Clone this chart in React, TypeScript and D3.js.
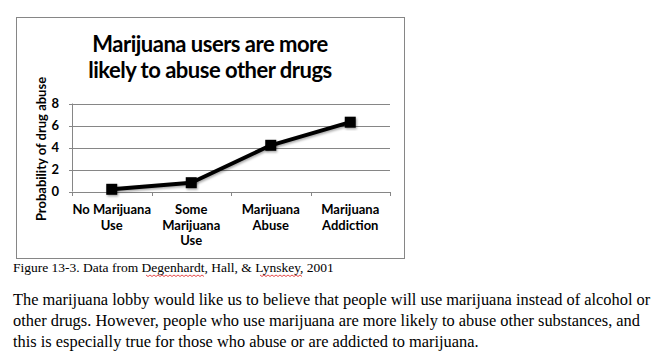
import { useEffect, useRef } from 'react'
import * as d3 from 'd3'

const CATEGORIES = ['No Marijuana|Use', 'Some|Marijuana|Use', 'Marijuana|Abuse', 'Marijuana|Addiction']
const VALUES = [0.2, 0.8, 4.2, 6.3]
const Y_TICKS = [0, 2, 4, 6, 8]
const TITLE = ['Marijuana users are more', 'likely to abuse other drugs']
const CAPTION = 'Figure 13-3. Data from Degenhardt, Hall, & Lynskey, 2001'
const PARAGRAPH = [
  'The marijuana lobby would like us to believe that people will use marijuana instead of alcohol or',
  'other drugs. However, people who use marijuana are more likely to abuse other substances, and',
  'this is especially true for those who abuse or are addicted to marijuana.',
]

const SANS = 'Lato, "Open Sans", sans-serif'
const SERIF = '"Liberation Serif", "Times New Roman", serif'
const GRID = '#868686'

export default function App() {
  const svgRef = useRef<SVGSVGElement>(null)
  const W = 672
  const H = 364

  useEffect(() => {
    if (!svgRef.current) return
    const svg = d3.select(svgRef.current)
    svg.selectAll('*').remove()

    const defs = svg.append('defs')
    const f = defs.append('filter').attr('id', 'shadow')
      .attr('x', '-30%').attr('y', '-30%').attr('width', '160%').attr('height', '160%')
    f.append('feDropShadow').attr('dx', 1).attr('dy', 1.5).attr('stdDeviation', 1.2)
      .attr('flood-color', '#000').attr('flood-opacity', 0.35)

    svg.append('rect').attr('width', W).attr('height', H).attr('fill', '#fff')

    // chart box
    svg.append('rect').attr('x', 16.5).attr('y', 17.5).attr('width', 388).attr('height', 241)
      .attr('fill', '#fff').attr('stroke', GRID).attr('stroke-width', 1)

    const x = d3.scaleBand().domain(CATEGORIES).range([72, 390])
    const y = d3.scaleLinear().domain([0, 8]).range([191.5, 103.5])

    // gridlines + y ticks
    Y_TICKS.forEach(t => {
      svg.append('line').attr('x1', 69).attr('x2', 390)
        .attr('y1', Math.round(y(t)) + 0.5).attr('y2', Math.round(y(t)) + 0.5)
        .attr('stroke', GRID).attr('stroke-width', 1)
      svg.append('text').attr('x', 59).attr('y', y(t) + 4.5)
        .attr('text-anchor', 'end').attr('font-family', SANS).attr('font-weight', 'bold')
        .attr('font-size', 13).attr('fill', '#000').text(t)
    })
    // y axis line
    svg.append('line').attr('x1', 72.5).attr('x2', 72.5)
      .attr('y1', y(8)).attr('y2', y(0))
      .attr('stroke', GRID).attr('stroke-width', 1)

    // x axis ticks at band edges
    const edges = CATEGORIES.map(c => x(c)!).concat([x.range()[1]])
    edges.forEach(e => {
      svg.append('line').attr('x1', Math.round(e) + 0.5).attr('x2', Math.round(e) + 0.5)
        .attr('y1', Math.round(y(0))).attr('y2', Math.round(y(0)) + 4)
        .attr('stroke', GRID).attr('stroke-width', 1)
    })

    // category labels
    CATEGORIES.forEach(c => {
      const cx = x(c)! + x.bandwidth() / 2
      const t = svg.append('text').attr('text-anchor', 'middle')
        .attr('font-family', SANS).attr('font-weight', 'bold').attr('font-size', 13)
        .attr('fill', '#000')
      c.split('|').forEach((ln, i) => {
        t.append('tspan').attr('x', cx).attr('y', 214 + i * 15.5).text(ln)
      })
    })

    // y axis title
    svg.append('text')
      .attr('transform', `translate(46,${149}) rotate(-90)`)
      .attr('text-anchor', 'middle').attr('font-family', SANS).attr('font-weight', 'bold')
      .attr('font-size', 13).attr('fill', '#000').text('Probability of drug abuse')

    // chart title
    TITLE.forEach((ln, i) => {
      svg.append('text').attr('x', 210).attr('y', 52 + i * 26)
        .attr('text-anchor', 'middle').attr('font-family', SANS).attr('font-weight', 'bold')
        .attr('font-size', 22).attr('letter-spacing', -0.5).attr('fill', '#000').text(ln)
    })

    // series line
    const pts: [number, number][] = CATEGORIES.map((c, i) => [x(c)! + x.bandwidth() / 2, y(VALUES[i])])
    svg.append('path').attr('d', d3.line()(pts))
      .attr('fill', 'none').attr('stroke', '#000').attr('stroke-width', 4)
      .attr('stroke-linejoin', 'round').attr('filter', 'url(#shadow)')
    pts.forEach(([px, py]) => {
      svg.append('rect').attr('x', px - 5.5).attr('y', py - 5.5).attr('width', 11).attr('height', 11)
        .attr('fill', '#000').attr('filter', 'url(#shadow)')
    })

    // caption
    svg.append('text').attr('x', 13).attr('y', 272)
      .attr('font-family', SERIF).attr('font-size', 13.5).attr('fill', '#000').text(CAPTION)

    // spell-check squiggles
    const squiggle = (x0: number, x1: number, yy: number) => {
      const pts2: [number, number][] = []
      for (let xx = x0; xx <= x1; xx += 2) pts2.push([xx, yy + ((xx - x0) / 2 % 2 === 0 ? 0 : 1.5)])
      svg.append('path').attr('d', d3.line()(pts2)).attr('fill', 'none')
        .attr('stroke', '#e02020').attr('stroke-width', 0.8)
    }
    squiggle(146, 204, 275)
    squiggle(260, 303, 275)

    // paragraph
    PARAGRAPH.forEach((ln, i) => {
      svg.append('text').attr('x', 13).attr('y', 305 + i * 21)
        .attr('font-family', SERIF).attr('font-size', 16.4).attr('fill', '#000').text(ln)
    })
  }, [])

  return (
    <svg ref={svgRef} width={W} height={H}
      style={{ position: 'absolute', left: 0, top: 0, display: 'block' }} />
  )
}
